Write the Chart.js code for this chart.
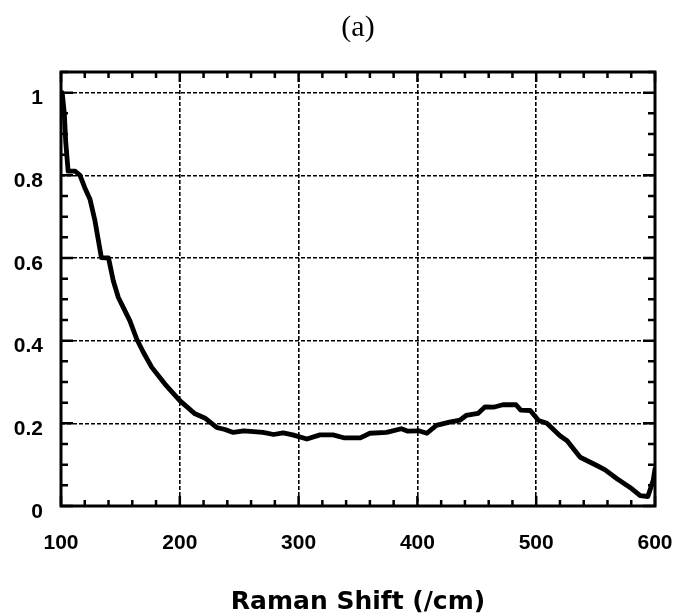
<!DOCTYPE html>
<html>
<head>
<meta charset="utf-8">
<script src="https://cdn.jsdelivr.net/npm/chart.js@4"></script>
<style>
  html, body { margin: 0; padding: 0; background: #fff; }
  #wrap { width: 679px; height: 616px; }
</style>
</head>
<body>
<div id="wrap"><canvas id="c" width="679" height="616"></canvas></div>
<script>
const ramanShift = [101, 102.8, 104, 106, 112, 116, 120, 124.4, 128.6, 134, 140, 144, 148.2, 152.5, 158, 163.7, 169.3, 176.3, 187.5, 200, 212.8, 221, 231, 238, 245, 254, 262, 270, 279, 287, 295, 307, 318, 329, 338, 352, 360, 374, 386.5, 392, 401, 408, 416, 427, 436, 441, 451, 457, 464, 472, 483, 487, 495, 502, 509, 520, 526, 537, 551, 558, 568, 579, 587.5, 594, 598.5, 600];
const intensity = [1.00, 0.95, 0.88, 0.81, 0.81, 0.80, 0.77, 0.742, 0.69, 0.601, 0.60, 0.545, 0.505, 0.48, 0.448, 0.404, 0.372, 0.336, 0.295, 0.255, 0.223, 0.213, 0.19, 0.185, 0.178, 0.182, 0.180, 0.178, 0.173, 0.177, 0.172, 0.162, 0.172, 0.172, 0.165, 0.165, 0.176, 0.178, 0.187, 0.181, 0.182, 0.176, 0.195, 0.203, 0.208, 0.219, 0.224, 0.240, 0.239, 0.245, 0.245, 0.232, 0.231, 0.207, 0.200, 0.170, 0.158, 0.118, 0.098, 0.0875, 0.066, 0.045, 0.025, 0.023, 0.062, 0.09];
const xTickLabels = [100, 200, 300, 400, 500, 600];
const yTickLabels = [0, 0.2, 0.4, 0.6, 0.8, 1];
const xMinorStep = 20;
const yMinorStep = 0.05;

const points = ramanShift.map((x, i) => ({ x: x, y: intensity[i] }));

const frameTicks = {
  id: 'frameTicks',
  afterDatasetsDraw(chart) {
    const ctx = chart.ctx;
    const a = chart.chartArea;
    const xs = chart.scales.x, ys = chart.scales.y;
    ctx.save();
    ctx.strokeStyle = '#000';
    ctx.lineWidth = 2.5;
    for (let v = xs.min; v <= xs.max + 1e-9; v += xMinorStep) {
      const px = xs.getPixelForValue(v);
      const major = xTickLabels.some(t => Math.abs(t - v) < 1e-6);
      const len = major ? 10 : 6;
      ctx.beginPath();
      ctx.moveTo(px, a.bottom); ctx.lineTo(px, a.bottom - len);
      ctx.moveTo(px, a.top); ctx.lineTo(px, a.top + len);
      ctx.stroke();
    }
    for (let v = ys.min; v <= ys.max + 1e-9; v += yMinorStep) {
      const py = ys.getPixelForValue(v);
      const major = yTickLabels.some(t => Math.abs(t - v) < 1e-6);
      const len = major ? 12 : 7;
      ctx.beginPath();
      ctx.moveTo(a.left, py); ctx.lineTo(a.left + len, py);
      ctx.moveTo(a.right, py); ctx.lineTo(a.right - len, py);
      ctx.stroke();
    }
    ctx.lineWidth = 3;
    ctx.strokeRect(a.left, a.top, a.right - a.left, a.bottom - a.top);
    ctx.restore();
  }
};

new Chart(document.getElementById('c'), {
  type: 'line',
  data: {
    datasets: [{
      data: points,
      borderColor: '#000',
      borderWidth: 4.8,
      pointRadius: 0,
      tension: 0,
      borderJoinStyle: 'round',
      borderCapStyle: 'round',
      fill: false
    }]
  },
  options: {
    responsive: false,
    animation: false,
    layout: { padding: { left: 13, right: 24, top: 0, bottom: 0 } },
    plugins: {
      legend: { display: false },
      tooltip: { enabled: false },
      title: {
        display: true,
        fullSize: false,
        text: '(a)',
        color: '#000',
        font: { family: 'Liberation Serif', size: 30, weight: 'normal' },
        padding: { top: 10, bottom: 26 }
      }
    },
    scales: {
      x: {
        type: 'linear',
        min: 100,
        max: 600,
        afterBuildTicks: (s) => { s.ticks = xTickLabels.map(v => ({ value: v })); },
        afterFit: (s) => { s.paddingLeft = 0; s.paddingRight = 0; s.height = 110; },
        ticks: {
          color: '#000',
          padding: 25,
          maxRotation: 0,
          font: { family: 'Liberation Sans', size: 21, weight: 'bold' },
          callback: (v) => String(v)
        },
        grid: {
          color: (c) => (c.tick && (c.tick.value === 100 || c.tick.value === 600)) ? 'rgba(0,0,0,0)' : '#000',
          lineWidth: 1.6,
          drawTicks: false
        },
        border: { display: false, dash: [4, 2] },
        title: {
          display: true,
          text: 'Raman Shift (/cm)',
          color: '#000',
          font: { family: 'DejaVu Sans', size: 25, weight: 'bold', lineHeight: 1.1 },
          padding: { top: 29, bottom: 0 }
        }
      },
      y: {
        type: 'linear',
        min: 0,
        max: 1.05,
        afterBuildTicks: (s) => { s.ticks = yTickLabels.map(v => ({ value: v })); },
        afterFit: (s) => { s.paddingTop = 0; s.paddingBottom = 0; s.width = 48; },
        ticks: {
          color: '#000',
          padding: 18,
          labelOffset: 6,
          font: { family: 'Liberation Sans', size: 21, weight: 'bold' },
          callback: (v) => String(v)
        },
        grid: {
          color: (c) => (c.tick && c.tick.value === 0) ? 'rgba(0,0,0,0)' : '#000',
          lineWidth: 1.6,
          drawTicks: false
        },
        border: { display: false, dash: [4, 2] }
      }
    }
  },
  plugins: [frameTicks]
});
</script>
</body>
</html>
